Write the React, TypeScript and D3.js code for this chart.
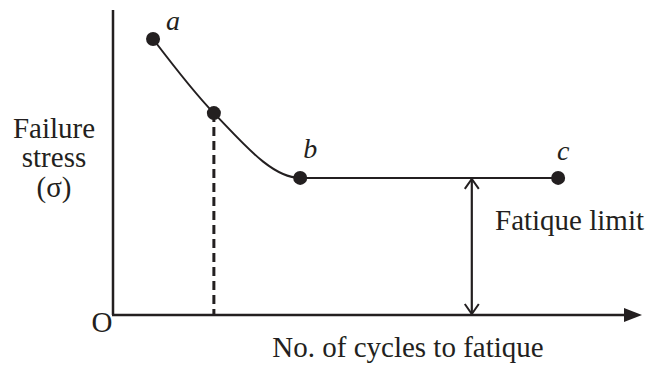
import React from "react";
import * as d3 from "d3";

const W = 647;
const H = 366;

// S-N curve points (arbitrary units)
const curveNames = ["a", "mid", "b", "c"];
const curveX = [0.77, 1.94, 3.6, 8.56];
const curveY = [9.2, 6.73, 4.57, 4.57];
const pointLabels = ["a", "", "b", "c"];
const dashedX = 1.94;
const limitArrowX = 6.9;
const limitY = 4.57;

const xScale = d3.scaleLinear().domain([0, 10]).range([113, 633]);
const yScale = d3.scaleLinear().domain([0, 10]).range([315, 15]);

const FONT = "'Liberation Serif', 'Times New Roman', Times, serif";

export default function App() {
  const pts: [number, number][] = curveX.map((x, i) => [xScale(x), yScale(curveY[i])]);
  const line = d3.line().curve(d3.curveMonotoneX)(pts) || "";
  const x0 = xScale(0);
  const y0 = yScale(0);
  const ax = xScale(limitArrowX);
  const ly = yScale(limitY);
  const dx = xScale(dashedX);
  const dy = yScale(curveY[1]);
  const labelOffsets: Record<string, [number, number]> = {
    a: [13, -9],
    b: [3, -20],
    c: [-1, -18],
  };
  return (
    <svg width={W} height={H} style={{ position: "absolute", left: 0, top: 0, background: "#fff" }}>
      {/* axes */}
      <line x1={x0} y1={10} x2={x0} y2={y0} stroke="#231f20" strokeWidth={2.5} />
      <line x1={x0 - 1} y1={y0} x2={628} y2={y0} stroke="#231f20" strokeWidth={2.5} />
      <path d={`M642,${y0} L624,${y0 - 7} L624,${y0 + 7} Z`} fill="#231f20" />
      {/* dashed drop */}
      <line x1={dx} y1={dy} x2={dx} y2={y0} stroke="#231f20" strokeWidth={3} strokeDasharray="9,5" />
      {/* curve */}
      <path d={line} fill="none" stroke="#231f20" strokeWidth={2} />
      {/* fatigue limit arrow */}
      <line x1={ax} y1={ly + 1} x2={ax} y2={y0 - 1} stroke="#231f20" strokeWidth={2.2} />
      <path d={`M${ax - 7},${ly + 11} L${ax},${ly + 1} L${ax + 7},${ly + 11}`} fill="none" stroke="#231f20" strokeWidth={2} />
      <path d={`M${ax - 7},${y0 - 11} L${ax},${y0 - 1} L${ax + 7},${y0 - 11}`} fill="none" stroke="#231f20" strokeWidth={2} />
      {/* points */}
      {pts.map((p, i) => (
        <circle key={curveNames[i]} cx={p[0]} cy={p[1]} r={7} fill="#231f20" />
      ))}
      {pts.map((p, i) =>
        pointLabels[i] ? (
          <text
            key={"l" + i}
            x={p[0] + labelOffsets[pointLabels[i]][0]}
            y={p[1] + labelOffsets[pointLabels[i]][1]}
            fontFamily={FONT}
            fontStyle="italic"
            fontSize={28}
            fill="#231f20"
          >
            {pointLabels[i]}
          </text>
        ) : null
      )}
      {/* labels */}
      <g fontFamily={FONT} fontSize={29} fill="#231f20">
        <text x={54} y={138} textAnchor="middle">Failure</text>
        <text x={54} y={167} textAnchor="middle">stress</text>
        <text x={54} y={197} textAnchor="middle">(σ)</text>
        <text x={102} y={332} textAnchor="middle">O</text>
        <text x={495} y={230}>Fatique limit</text>
        <text x={408} y={357} textAnchor="middle">No. of cycles to fatique</text>
      </g>
    </svg>
  );
}
